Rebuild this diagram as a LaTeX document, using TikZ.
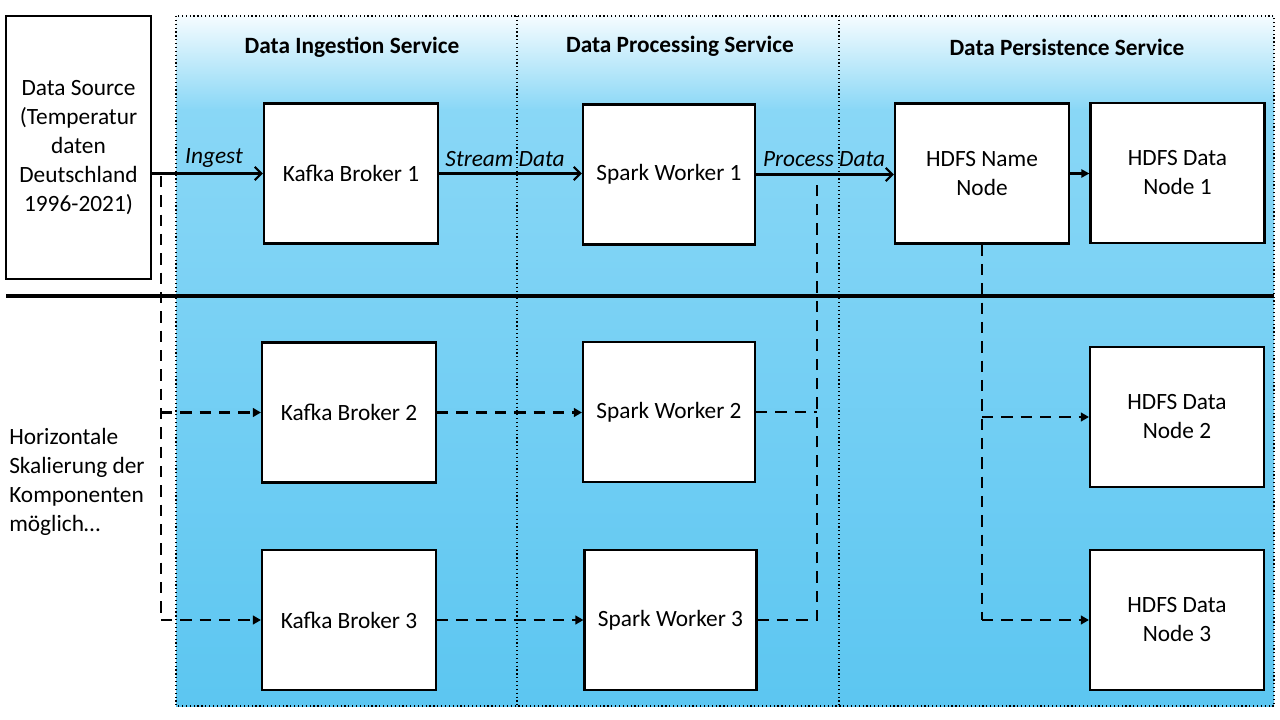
\documentclass[tikz,border=0pt]{standalone}
\usepackage{fontspec}
\setmainfont{Carlito}
\usetikzlibrary{arrows.meta}
\definecolor{bgtop}{RGB}{245,252,255}
\definecolor{bgmid}{RGB}{137,215,246}
\definecolor{bgbot}{RGB}{92,198,241}
\tikzset{
  txt/.style={font=\fontsize{17.5pt}{21.75pt}\selectfont, inner sep=0pt},
  box/.style={draw=black, fill=white, line width=1.6pt, minimum width=130.5pt, minimum height=105pt, align=center, txt},
  hdr/.style={txt, font=\fontsize{17.5pt}{21.75pt}\selectfont\bfseries},
  lbl/.style={txt, font=\fontsize{17.5pt}{21.75pt}\selectfont\itshape},
  solidarrow/.style={line width=1.7pt, -{Straight Barb[length=5pt,width=10pt,line width=1.6pt]}},
  dasharrow/.style={line width=2pt, dash pattern=on 8.5pt off 6pt, -{Triangle[length=6pt,width=6.5pt]}},
  dashline/.style={line width=2pt, dash pattern=on 8.5pt off 6pt},
  divider/.style={line width=0.9pt, dotted}
}
\begin{document}
\begin{tikzpicture}[x=0.75pt, y=-0.75pt]
\useasboundingbox (0,0) rectangle (1280,720);
% background
\shade[top color=bgtop, bottom color=bgmid] (176,16) rectangle (1274,110);
\shade[top color=bgmid, bottom color=bgbot] (176,109.5) rectangle (1274,706);
\draw[divider] (176,16) rectangle (1274,706);
\draw[divider] (517,16) -- (517,706);
\draw[divider] (839,16) -- (839,706);
% headers
\node[hdr] (h1) at (352,47) {Data Ingestion Service};
\node[hdr] (h2) at (680,46) {Data Processing Service};
\node[hdr] (h3) at (1067,47) {Data Persistence Service};
% separator
\draw[line width=2.6pt] (6,296) -- (1274,296);
% nodes
\node[box, minimum width=108.75pt, minimum height=197.25pt] (ds) at (78.5,147.5) {\raisebox{-2pt}{\begin{tabular}{@{}c@{}}Data Source\\(Temperatur\\daten\\Deutschland\\1996-2021)\end{tabular}}};
\node[box] (k1) at (351,173.5) {Kafka Broker 1};
\node[box] (k2) at (349,412.5) {Kafka Broker 2};
\node[box] (k3) at (349,620) {Kafka Broker 3};
\node[box, minimum width=129pt] (s1) at (669,174.5) {Spark Worker 1};
\node[box, minimum width=129pt] (s2) at (669,412) {Spark Worker 2};
\node[box, minimum width=129pt] (s3) at (670.5,620) {Spark Worker 3};
\node[box] (nn) at (982,173.5) {HDFS Name\\Node};
\node[box] (d1) at (1177.5,173) {HDFS Data\\Node 1};
\node[box] (d2) at (1177,417) {HDFS Data\\Node 2};
\node[box] (d3) at (1177,620) {HDFS Data\\Node 3};
\node[txt, anchor=west, align=left] (hs) at (9,482) {Horizontale\\Skalierung der\\Komponenten\\möglich…};
% coordinates
\coordinate (b0) at (161,176);
\coordinate (m0) at (817,177);
% solid connectors
\draw[solidarrow] (ds.east |- k1.west) -- (k1.west);
\draw[solidarrow] (k1.east) -- (k1.east -| s1.west);
\draw[solidarrow] (s1.east) -- (s1.east -| nn.west);
\draw[line width=1.6pt, -{Triangle[length=6pt,width=6pt]}] (nn.east) -- (nn.east -| d1.west);
% labels
\node[lbl] (li) at (214,158) {Ingest};
\node[lbl] (ls) at (505,159) {Stream Data};
\node[lbl] (lp) at (824,159) {Process Data};
% dashed connectors
\draw[dashline] (b0) -- (b0 |- k3.west);
\draw[dasharrow] (b0 |- k2.west) -- (k2.west);
\draw[dasharrow] (b0 |- k3.west) -- (k3.west);
\draw[dasharrow] (k2.east) -- (k2.east -| s2.west);
\draw[dasharrow] (k3.east) -- (k3.east -| s3.west);
\draw[dashline] (s2.east) -- (s2.east -| m0);
\draw[dashline] (s3.east) -| (m0);
\draw[dashline] (nn.south) -- (nn.south |- d3.west);
\draw[dasharrow] (nn.south |- d2.west) -- (d2.west);
\draw[dasharrow] (nn.south |- d3.west) -- (d3.west);
\end{tikzpicture}
\end{document}
